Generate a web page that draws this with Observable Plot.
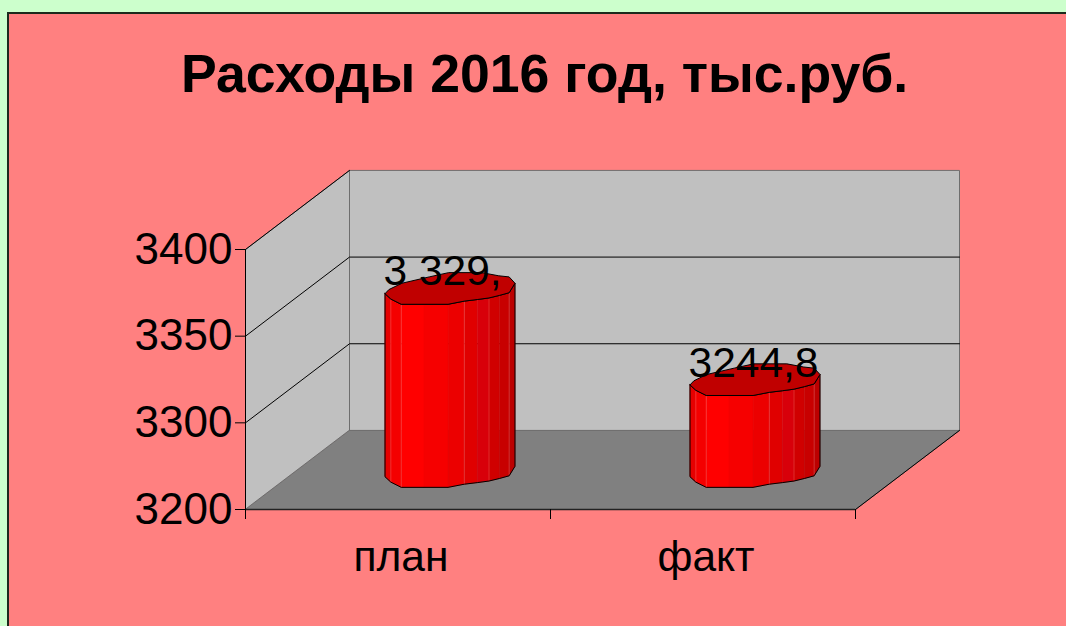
<!DOCTYPE html>
<html lang="ru">
<head>
<meta charset="utf-8">
<script src="https://cdn.jsdelivr.net/npm/d3@7"></script>
<script src="https://cdn.jsdelivr.net/npm/@observablehq/plot@0.6"></script>
<style>
html,body{margin:0;padding:0;width:1066px;height:626px;overflow:hidden;background:#ccffcc;font-family:"Liberation Sans",Arial,sans-serif}
#panel{position:absolute;left:7px;top:12px;width:1059px;height:614px;box-sizing:border-box;background:#ff8080;border-left:2px solid #1c2a1c;border-top:2px solid #1c2a1c}
#title{position:absolute;left:181px;top:40px;width:726px;text-align:center;white-space:nowrap;font-weight:700;font-size:53.6px;line-height:66px;color:#000}
#chart{position:absolute;left:0;top:0}
svg{background:transparent!important;overflow:visible}
</style>
</head>
<body>
<div id="panel"></div>
<div id="chart"></div>
<div id="title">Расходы 2016 год, тыс.руб.</div>
<script>
const categories = ["план", "факт"];
const values = [3329, 3244.8];
const valueLabels = ["3 329,", "3244,8"];
const yTicks = [3160, 3240, 3320, 3400];
const yTickLabels = ["3200", "3300", "3350", "3400"];

// Oblique projection of the 3D box, expressed in data units of each scale
const yMin = 3160, yMax = 3400, depthX = 0.341, depthY = 73;
const barDepth = 0.48, halfW = 0.2131, halfH = 14.6;
// Cylinder cross-section (unit shape, clockwise from the left edge along the front)
const sectionFront = [[-1,-.33],[-.91,-.67],[-.75,-1],[-.4,-1],[-.03,-1],[.22,-.8],[.42,-.7],[.6,-.6],[.76,-.44],[.91,-.27],[1,.33]];
const sectionBack = [[.91,.73],[.75,.8],[.49,1],[-.02,1],[-.32,.73],[-.74,.33],[-.94,-.07]];
const facetFill = ["#e60000","#f40000","#ff0000","#f60000","#ec0000","#e00000","#d8000a","#d00000","#c80000","#bc0000"];
const seams = [1, 2, 5, 7, 9];

const P = (x, v, d = 0) => ({x: x + d * depthX, y: v + d * depthY});
const poly = (id, pts, fill) => pts.map(p => ({id, fill, ...p}));
const cx = i => i + 0.5 + 0.5 * depthX;
const sp = (i, s, top) => ({
  x: cx(i) + s[0] * halfW,
  y: (top ? values[i] : yMin) + barDepth * depthY + s[1] * halfH
});

const box = [
  ...poly("left", [P(0,yMin),P(0,yMax),P(0,yMax,1),P(0,yMin,1)], "#c0c0c0"),
  ...poly("back", [P(0,yMin,1),P(0,yMax,1),P(2,yMax,1),P(2,yMin,1)], "#c0c0c0"),
  ...poly("floor", [P(0,yMin),P(2,yMin),P(2,yMin,1),P(0,yMin,1)], "#808080")
];
const grid = yTicks.slice(1, -1).map(v => [P(0,v),P(0,v,1),P(2,v,1)]);

const facets = [], caps = [], outlines = [], seamLines = [];
values.forEach((_, i) => {
  sectionFront.slice(0, -1).forEach((s, k) => {
    const n = sectionFront[k + 1];
    facets.push(...poly(`f${i}-${k}`, [sp(i,s,true),sp(i,n,true),sp(i,n,false),sp(i,s,false)], facetFill[k]));
  });
  seams.forEach(k => {
    seamLines.push(...poly(`s${i}-${k}`, [sp(i,sectionFront[k],true),sp(i,sectionFront[k],false)], ""));
  });
  const top = [...sectionFront, ...sectionBack];
  const closed = [...top, top[0]].map(s => sp(i,s,true));
  caps.push(...poly(`c${i}`, closed, "#c00000"));
  const body = [...sectionFront.map(s => sp(i,s,true)), ...sectionFront.slice().reverse().map(s => sp(i,s,false)), sp(i,sectionFront[0],true)];
  outlines.push(...poly(`o${i}`, body, ""));
});

const chart = Plot.plot({
  width: 1066, height: 626,
  marginLeft: 245, marginRight: 211, marginTop: 249, marginBottom: 117,
  style: {background: "transparent", fontFamily: "'Liberation Sans',Arial,sans-serif", color: "#000"},
  x: {domain: [0, 2]},
  y: {domain: [yMin, yMax]},
  marks: [
    Plot.line(box, {x: "x", y: "y", z: "id", fill: "fill", stroke: "#6e6e6e", strokeWidth: 1, curve: "linear-closed"}),
    Plot.line(grid.flatMap((g, k) => g.map(p => ({...p, k}))), {x: "x", y: "y", z: "k", stroke: "#000", strokeWidth: 1}),
    Plot.line([P(0,yMax),P(0,yMax,1)], {x: "x", y: "y", stroke: "#000", strokeWidth: 1}),
    Plot.line([P(2,yMin),P(2,yMin,1)], {x: "x", y: "y", stroke: "#000", strokeWidth: 1}),
    Plot.line(facets, {x: "x", y: "y", z: "id", fill: "fill", stroke: "fill", strokeWidth: 0.5, curve: "linear-closed"}),
    Plot.line(seamLines, {x: "x", y: "y", z: "id", stroke: "#ff8080", strokeWidth: 1, strokeOpacity: 0.35}),
    Plot.line(outlines, {x: "x", y: "y", z: "id", stroke: "#000", strokeWidth: 1}),
    Plot.line(caps, {x: "x", y: "y", z: "id", fill: "fill", stroke: "#000", strokeWidth: 1}),
    Plot.ruleX([0], {y1: yMin, y2: yMax, stroke: "#000", strokeWidth: 1}),
    Plot.ruleY([yMin], {x1: 0, x2: 2, stroke: "#222", strokeWidth: 1.5}),
    Plot.axisY({ticks: yTicks, tickFormat: d => yTickLabels[yTicks.indexOf(d)], label: null, tickSize: 10, tickPadding: 3, fontSize: 44, stroke: "#000", strokeWidth: 1}),
    Plot.axisX({ticks: [0, 1, 2], tickFormat: () => "", label: null, tickSize: 10, stroke: "#000", strokeWidth: 1}),
    Plot.axisX({ticks: [0.5, 1.5], tickFormat: d => categories[Math.floor(d)], label: null, tickSize: 0, tickPadding: 31, fontSize: 42.5, dx: 3}),
    Plot.text(values.map((v, i) => ({x: cx(i), y: v + 0.5 * depthY, t: valueLabels[i]})), {
      x: "x", y: "y", text: "t", fontSize: 42.5, fill: "#000", textAnchor: "start", dx: -66.5, dy: -15
    })
  ]
});
document.getElementById("chart").append(chart);
</script>
</body>
</html>
